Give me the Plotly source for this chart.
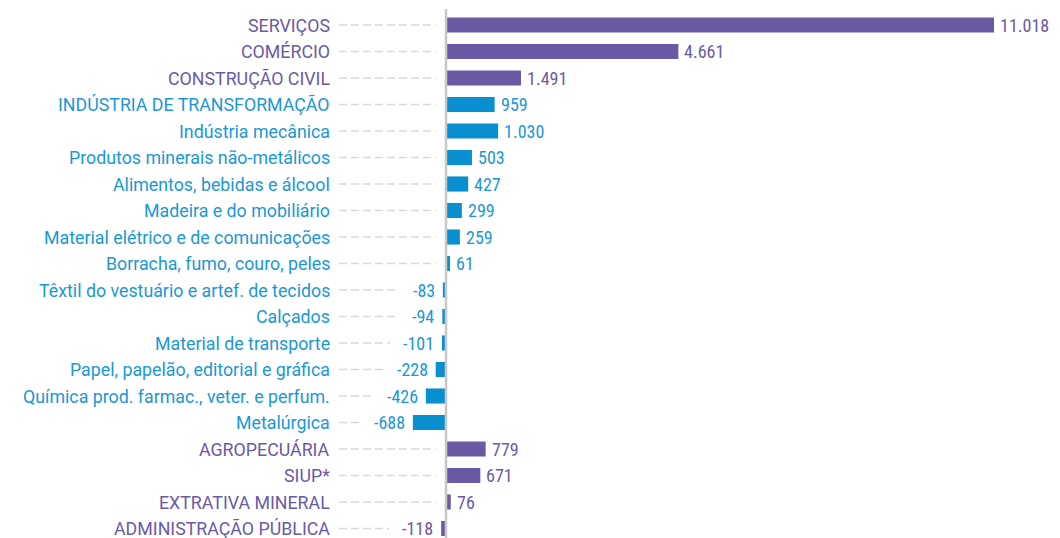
import plotly.graph_objects as go

categories = [
    "SERVIÇOS", "COMÉRCIO", "CONSTRUÇÃO CIVIL", "INDÚSTRIA DE TRANSFORMAÇÃO",
    "Indústria mecânica", "Produtos minerais não-metálicos", "Alimentos, bebidas e álcool",
    "Madeira e do mobiliário", "Material elétrico e de comunicações", "Borracha, fumo, couro, peles",
    "Têxtil do vestuário e artef. de tecidos", "Calçados", "Material de transporte",
    "Papel, papelão, editorial e gráfica", "Química prod. farmac., veter. e perfum.",
    "Metalúrgica", "AGROPECUÁRIA", "SIUP*", "EXTRATIVA MINERAL", "ADMINISTRAÇÃO PÚBLICA",
]
values = [11018, 4661, 1491, 959, 1030, 503, 427, 299, 259, 61,
          -83, -94, -101, -228, -426, -688, 779, 671, 76, -118]
groups = ["setor", "setor", "setor", "ind", "ind", "ind", "ind", "ind", "ind", "ind",
          "ind", "ind", "ind", "ind", "ind", "ind", "setor", "setor", "setor", "setor"]

PURPLE = "#6a5aa6"
BLUE = "#0a8fd0"
PURPLE_TXT = "#6a5aa6"
BLUE_TXT = "#1a98d5"
FONT = "Roboto"
NUM_FONT = "Liberation Sans Narrow, Roboto Condensed, Roboto"

W, H = 1060, 538
ZERO_PX = 447.0
SCALE = 547.0 / 11018.0   # px per unit
ROW0_PX, ROW_STEP = 25.0, 26.5


def px2x(px):
    return (px - ZERO_PX) / SCALE


def py2y(py):
    return (py - ROW0_PX) / ROW_STEP


def fmt(v):
    return f"{v:,}".replace(",", ".")


bar_colors = [PURPLE if g == "setor" else BLUE for g in groups]
txt_colors = [PURPLE_TXT if g == "setor" else BLUE_TXT for g in groups]

fig = go.Figure()
fig.add_trace(go.Bar(
    x=values, y=categories, orientation="h",
    marker=dict(color=bar_colors, line=dict(width=0)),
    width=0.57, hoverinfo="x+y",
))

annotations = []
shapes = []
for i, (c, v, tc) in enumerate(zip(categories, values, txt_colors)):
    annotations.append(dict(
        x=px2x(332), y=i, xref="x", yref="y", text=c, showarrow=False,
        xanchor="right", yanchor="middle",
        font=dict(family=FONT, size=17.8, color=tc),
    ))
    if v >= 0:
        annotations.append(dict(
            x=v, y=i, xref="x", yref="y", text=fmt(v), showarrow=False,
            xanchor="left", yanchor="middle", xshift=4,
            font=dict(family=NUM_FONT, size=18, color=tc),
        ))
        end_px = 436
    else:
        annotations.append(dict(
            x=v, y=i, xref="x", yref="y", text=fmt(v), showarrow=False,
            xanchor="right", yanchor="middle", xshift=-6,
            font=dict(family=NUM_FONT, size=18, color=tc),
        ))
        tw = 9 + 8.3 * len(str(abs(v)))
        bar_left = ZERO_PX + v * SCALE
        end_px = bar_left - 8 - tw - 10
    shapes.append(dict(
        type="line", xref="x", yref="y", x0=px2x(339), x1=px2x(end_px), y0=i, y1=i,
        line=dict(color="#d9d9d9", width=1.5, dash="8px,4px"), layer="below",
    ))

shapes.append(dict(
    type="line", xref="x", yref="y", x0=px2x(446), x1=px2x(446),
    y0=py2y(9), y1=py2y(540), line=dict(color="#c8c8c8", width=2.5), layer="above",
))

fig.update_layout(
    width=W, height=H,
    margin=dict(l=0, r=0, t=0, b=0),
    paper_bgcolor="white", plot_bgcolor="white",
    showlegend=False,
    xaxis=dict(range=[px2x(0), px2x(W)], visible=False, fixedrange=True),
    yaxis=dict(type="category", categoryorder="array", categoryarray=categories,
               range=[py2y(H), py2y(0)], visible=False, fixedrange=True),
    annotations=annotations, shapes=shapes,
)

fig.write_html(
    "out.html",
    config={"displayModeBar": False},
    post_script="document.body.style.margin='0';document.body.style.overflow='hidden';",
)
